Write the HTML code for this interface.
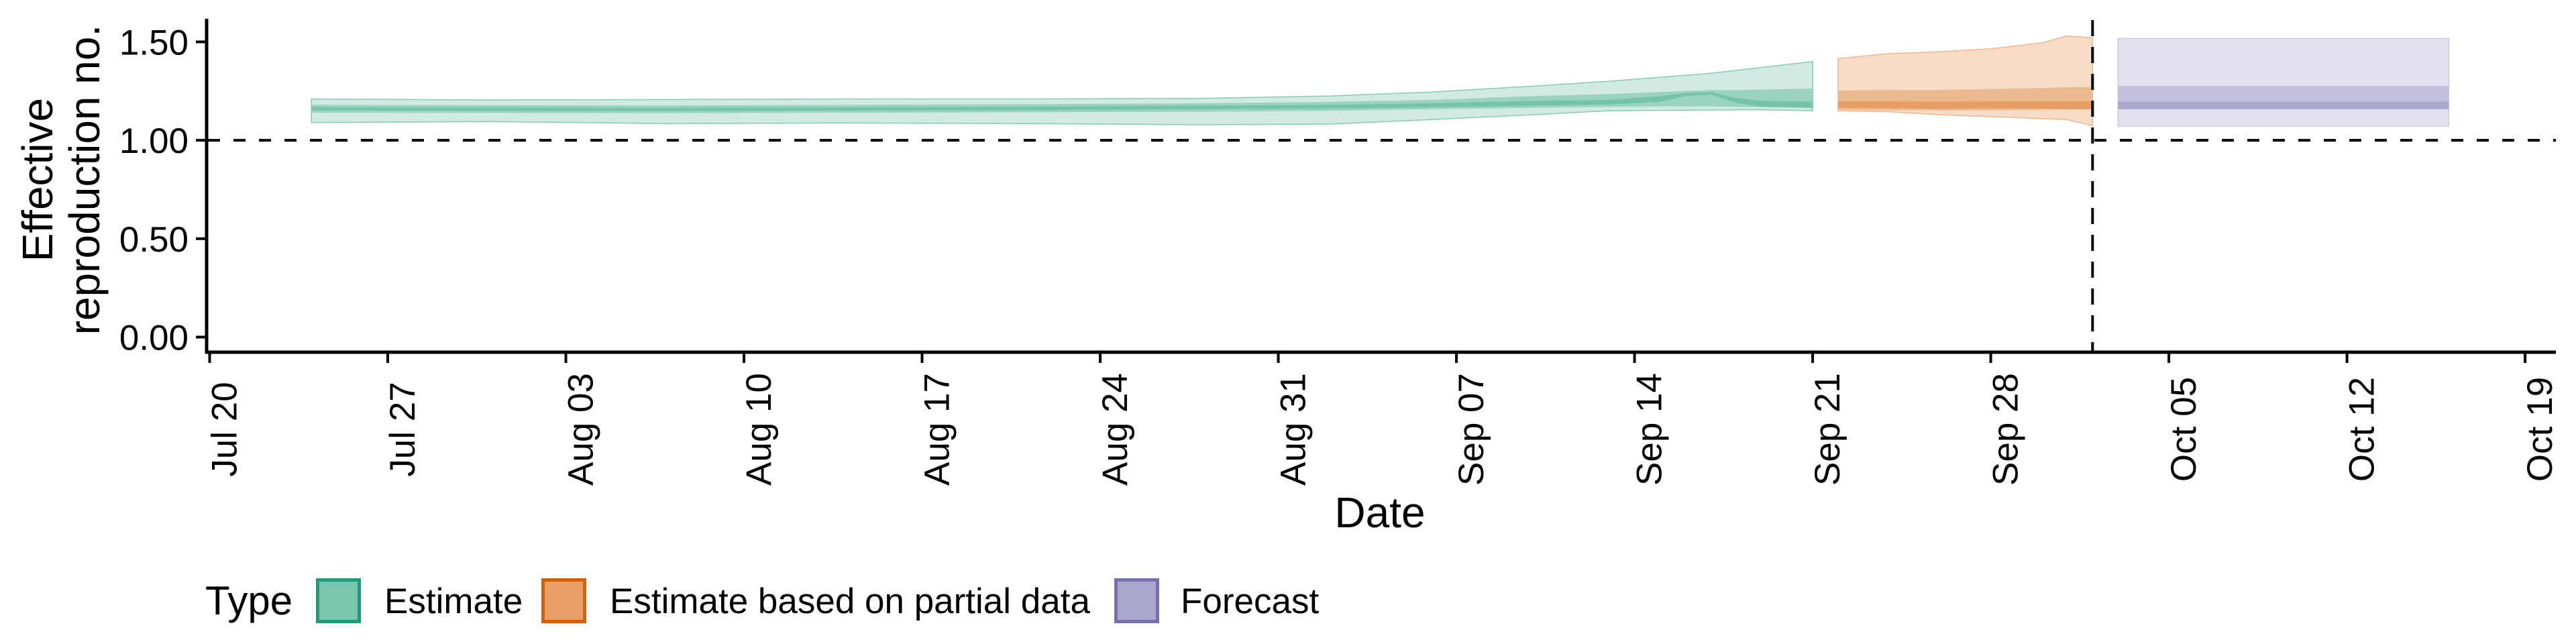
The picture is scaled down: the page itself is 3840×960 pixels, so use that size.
<!DOCTYPE html>
<html><head><meta charset="utf-8"><style>
html,body{margin:0;padding:0;background:#fff;}
svg{display:block;font-family:"Liberation Sans",sans-serif;}
</style></head><body>
<svg id="chart" width="3840" height="960" viewBox="0 0 3840 960" xmlns="http://www.w3.org/2000/svg">
<g id="plot"></g>
</svg>
<script>
// ---- data ----
const xTickLabels = ["Jul 20","Jul 27","Aug 03","Aug 10","Aug 17","Aug 24","Aug 31","Sep 07","Sep 14","Sep 21","Sep 28","Oct 05","Oct 12","Oct 19"];
const yTicks = [0, 0.5, 1.0, 1.5];
const yTickLabels = ["0.00","0.50","1.00","1.50"];
// day offsets from Jul 20
const estDays = [4,11,18,25,32,39,44,48,52,55,57,58,59,60,61,63];
const estHi90 = [1.21,1.205,1.207,1.21,1.21,1.213,1.225,1.245,1.275,1.30,1.32,1.33,1.34,1.355,1.37,1.40];
const estLo90 = [1.09,1.095,1.085,1.088,1.085,1.079,1.082,1.105,1.13,1.15,1.152,1.153,1.154,1.155,1.155,1.15];
const estHi50 = [1.18,1.178,1.177,1.18,1.183,1.188,1.195,1.205,1.225,1.235,1.245,1.25,1.255,1.255,1.258,1.263];
const estLo50 = [1.14,1.139,1.138,1.14,1.142,1.145,1.15,1.158,1.165,1.17,1.172,1.172,1.172,1.17,1.168,1.165];
const estHi20 = [1.168,1.166,1.165,1.167,1.17,1.176,1.18,1.188,1.2,1.205,1.225,1.24,1.245,1.215,1.2,1.197];
const estLo20 = [1.152,1.15,1.149,1.151,1.153,1.158,1.162,1.168,1.176,1.182,1.195,1.225,1.232,1.19,1.17,1.165];
const partDays = [64,66,68,70,72,73,74];
const partHi90 = [1.415,1.44,1.45,1.465,1.495,1.53,1.52];
const partLo90 = [1.15,1.145,1.13,1.12,1.11,1.105,1.074];
const partHi50 = [1.253,1.255,1.256,1.26,1.265,1.27,1.27];
const partLo50 = [1.155,1.153,1.152,1.152,1.155,1.157,1.158];
const partHi20 = [1.197,1.197,1.196,1.197,1.197,1.197,1.197];
const partLo20 = [1.165,1.163,1.16,1.162,1.162,1.158,1.158];
const fcDays = [75,88];
const fcHi90 = [1.517,1.517];
const fcLo90 = [1.071,1.071];
const fcHi50 = [1.276,1.276];
const fcLo50 = [1.158,1.158];
const fcHi20 = [1.197,1.197];
const fcLo20 = [1.158,1.158];
const refLineValue = 1.0;
const forecastStartDay = 74;

// ---- scales ----
const X0 = 312.5, PXDAY = 37.93;
const Y0 = 502.5, PXUNIT = 293.4;
const xs = d => X0 + d * PXDAY;
const ys = v => Y0 - v * PXUNIT;
const NS = "http://www.w3.org/2000/svg";
const plot = document.getElementById('plot');
function mk(tag, attrs, parent){
  const e = document.createElementNS(NS, tag);
  for (const k in attrs) e.setAttribute(k, attrs[k]);
  (parent||plot).appendChild(e);
  return e;
}
function band(days, lo, hi, fill, stroke, name){
  let d = "M" + days.map((t,i)=>xs(t).toFixed(1)+","+ys(hi[i]).toFixed(1)).join(" L");
  for (let i=days.length-1;i>=0;i--) d += " L"+xs(days[i]).toFixed(1)+","+ys(lo[i]).toFixed(1);
  d += " Z";
  const p = mk('path', {d:d, fill:fill, stroke:stroke||'none', 'stroke-width':stroke?1.5:0});
  
  
}
band(estDays, estLo90, estHi90, '#d2ebe2', '#86cbb4', 'estimate-90-band');
band(estDays, estLo50, estHi50, '#9ad3c1', null, 'estimate-50-band');
band(estDays, estLo20, estHi20, '#76c3ab', null, 'estimate-20-band');
band(partDays, partLo90, partHi90, '#f7dcc8', '#f0b68c', 'partial-90-band');
band(partDays, partLo50, partHi50, '#edb98e', null, 'partial-50-band');
band(partDays, partLo20, partHi20, '#e69d66', null, 'partial-20-band');
band(fcDays, fcLo90, fcHi90, '#e2e2ee', '#ccc9e2', 'forecast-90-band');
band(fcDays, fcLo50, fcHi50, '#c2bfdc', null, 'forecast-50-band');
band(fcDays, fcLo20, fcHi20, '#aaa7cf', null, 'forecast-20-band');

// reference lines
const hl = mk('line', {x1:310, x2:3810, y1:ys(refLineValue), y2:ys(refLineValue), stroke:'#000', 'stroke-width':4, 'stroke-dasharray':'18 20'});


const vl = mk('line', {x1:xs(forecastStartDay), x2:xs(forecastStartDay), y1:30, y2:525, stroke:'#000', 'stroke-width':4, 'stroke-dasharray':'24 16'});



// axes
const ya = mk('line', {x1:308, x2:308, y1:28, y2:527, stroke:'#000', 'stroke-width':5});


const xa = mk('line', {x1:306, x2:3810, y1:525, y2:525, stroke:'#000', 'stroke-width':5});



yTicks.forEach((v,i)=>{
  const t = mk('line', {x1:292, x2:308, y1:ys(v), y2:ys(v), stroke:'#000', 'stroke-width':4});
  
  
  const l = mk('text', {x:281, y:ys(v)+19, 'text-anchor':'end', 'font-size':53, fill:'#000'});
  l.textContent = yTickLabels[i];
  
  
});
xTickLabels.forEach((lab,i)=>{
  const x = xs(i*7);
  const t = mk('line', {x1:x, x2:x, y1:525, y2:541, stroke:'#000', 'stroke-width':4});
  
  
  const l = mk('text', {x:0, y:0, 'text-anchor':'middle', 'font-size':53, fill:'#000', transform:'translate('+(x+40)+',640) rotate(-90)'});
  l.textContent = lab;
  
  
});

// titles
const xt = mk('text', {x:2057, y:786, 'text-anchor':'middle', 'font-size':64, fill:'#000'});
xt.textContent = 'Date';


const yt = mk('text', {x:0, y:0, 'text-anchor':'middle', 'font-size':64, fill:'#000', transform:'translate(0,268) rotate(-90)'});


const ts1 = mk('tspan', {x:0, y:78}, yt); ts1.textContent = 'Effective';
const ts2 = mk('tspan', {x:0, y:148}, yt); ts2.textContent = 'reproduction no.';

// legend
const lg = mk('g', {});


const lt = mk('text', {x:306, y:916, 'font-size':60, fill:'#000'}, lg);
lt.textContent = 'Type';


const legendItems = [
  {x:471, fill:'#78c6ad', stroke:'#1b9e77', label:'Estimate', tx:573},
  {x:807, fill:'#e8a068', stroke:'#d95f02', label:'Estimate based on partial data', tx:909},
  {x:1661, fill:'#aaa7cf', stroke:'#7570b3', label:'Forecast', tx:1760}
];
legendItems.forEach(it=>{
  const r = mk('rect', {x:it.x+2.5, y:864.5, width:62, height:62, fill:it.fill, stroke:it.stroke, 'stroke-width':5}, lg);
  
  
  const t = mk('text', {x:it.tx, y:914, 'font-size':53, fill:'#000'}, lg);
  t.textContent = it.label;
  
  
});
</script>
</body></html>
